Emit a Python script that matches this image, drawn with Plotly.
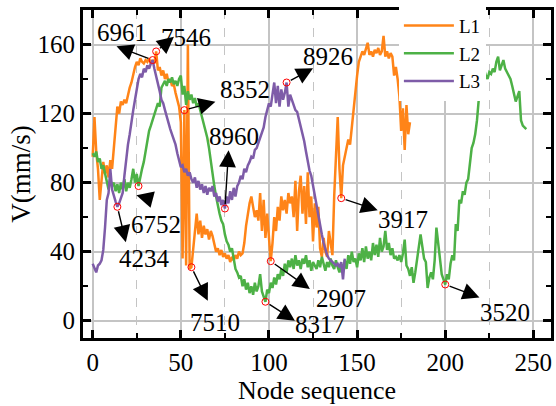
import plotly.graph_objects as go

# ---------------- data ----------------
series_names = ["L1", "L2", "L3"]
series_colors = ["#FF8418", "#4DB146", "#7E5CA8"]

l1_v = [95, 118, 98, 88, 70, 80, 92, 85, 90, 83,
        93, 88, 100, 115, 124, 120, 127, 125, 128, 126,
        131, 135, 138, 143, 147, 150, 148, 152, 150, 149,
        151, 150, 152, 149, 151, 149, 156, 145, 147, 142,
        145, 140, 143, 138, 140, 136, 137, 132, 128, 124,
        115, 36, 122, 32, 160, 30, 31, 42, 55, 62,
        50, 58, 48, 55, 50, 53, 47, 52, 49, 44,
        40, 42, 38, 41, 37, 39, 36, 38, 34, 37,
        35, 38, 36, 40, 38, 39, 45, 55, 62, 68,
        72, 66, 60, 64, 58, 74, 52, 70, 48, 62,
        50, 34.5, 45, 60, 52, 66, 58, 72, 64, 70,
        62, 74, 68, 72, 60, 81, 52, 75, 84, 62,
        78, 56, 86, 60, 72, 46, 68, 54, 66, 42,
        37, 48, 40, 37, 52, 44, 38, 72, 91, 118,
        88, 71, 90, 95, 100, 105, 102, 112, 125, 133,
        142, 150, 153, 156, 154, 157, 161, 154, 156, 153,
        157, 155, 158, 154, 156, 165, 153, 156, 152, 155,
        153, 142, 147, 140, 130, 110, 123, 99, 125, 108,
        115]

l2_v = [97, 95, 98, 92, 94, 88, 90, 85, 82, 76,
        82, 78, 80, 75, 79, 74, 80, 76, 82, 75,
        80, 77, 82, 88, 80, 85, 78, 84, 88, 92,
        98, 104, 110, 113, 116, 119, 122, 126, 124, 135,
        137, 139, 136, 140, 138, 141, 137, 139, 136, 140,
        142, 131, 136, 125, 133, 128, 131, 126, 129, 124,
        126, 122, 118, 114, 110, 106, 100, 92, 86, 78,
        72, 66, 62, 58, 56, 50, 46, 44, 40, 42,
        35, 30, 28, 25, 26, 20, 24, 18, 22, 16,
        20, 15, 22, 17, 20, 27, 17, 14, 11, 18,
        16, 22, 19, 25, 21, 27, 24, 30, 26, 33,
        28, 35, 31, 36, 30, 38, 32, 35, 30, 36,
        33, 38, 31, 35, 29, 34, 32, 30, 35, 31,
        37, 33, 29, 34, 31, 36, 32, 30, 35, 31,
        28, 33, 29, 35, 30, 38, 33, 40, 34, 36,
        31, 39, 35, 42, 34, 43, 36, 40, 35, 45,
        38, 44, 37, 48, 40, 43, 52, 41, 45, 38,
        42, 36, 37, 35, 38, 34, 39, 47, 32, 30,
        26, 31, 22, 28, 35, 44, 50, 43, 36, 34,
        19, 25, 28, 24, 35, 54, 44, 33, 27, 24,
        21, 27, 24, 33, 38, 35, 56, 52, 70, 68,
        75, 73, 80, 82, 92, 100, 103, 108, 116, 128,
        130, 131, 146, 142, 140, 144, 143, 146, 144, 150,
        153, 145, 148, 151, 146, 144, 142, 140, 136, 132,
        127, 130, 133, 116, 113, 112, 111]

l3_v = [33, 30, 28, 32, 33, 35, 41, 54, 70, 74,
        88, 76, 72, 69, 66, 68, 71, 74, 84, 94,
        102, 108, 116, 122, 128, 134, 140, 143, 141, 146,
        144, 148, 146, 149, 151, 146, 142, 138, 133, 128,
        126, 122, 118, 115, 111, 108, 105, 102, 97, 92,
        89, 90, 86, 88, 84, 86, 82, 80, 83, 77,
        81, 76, 79, 74, 78, 73, 77, 75, 78, 72,
        74, 69, 72, 67, 70, 65, 72, 68, 75, 70,
        77, 72, 78, 80, 84, 82, 88, 86, 90, 92,
        95, 94, 99, 100, 103, 105, 108, 112, 118, 122,
        126, 124, 132, 138, 126, 136, 124, 134, 128, 132,
        138, 124, 131, 128, 126, 122, 121, 117, 113, 109,
        104, 98, 91, 87, 84, 78, 72, 68, 62, 56,
        50, 45, 41, 38, 36, 35, 34, 33, 32, 33,
        31, 34, 24, 36]

series_values = [l1_v, l2_v, l3_v]

# marked points: label, node, value, label position, arrow-head position
mark_labels = ["6961", "7546", "8352", "8926", "8960", "6752",
               "4234", "7510", "2907", "8317", "3917", "3520"]
mark_x = [34, 36, 52, 110, 75, 26, 14, 56, 101, 98, 141, 200]
mark_y = [151, 156, 122, 138, 65, 78, 66, 31, 34.5, 11, 71, 21]
label_x = [16.8, 52.7, 86.5, 133.5, 79.9, 35.8, 29.2, 69.4, 141, 128.8, 175.8, 234]
label_y = [167, 164, 133.7, 153, 106.6, 55.6, 35.9, -1, 12.6, -1.9, 58.5, 4.8]
head_x = [13.5, 46.1, 69.6, 125, 77.1, 24.8, 18.8, 65.3, 123.2, 114.7, 161.7, 219.4]
head_y = [159, 164.5, 126.9, 146.3, 98.8, 72.7, 45.5, 11.6, 18.4, 0, 64, 13.5]
tail_x = [34, 36, 52, 110, 75, 33, 14, 56, 101, 98, 141, 200]
tail_y = [151, 156, 122, 138, 65, 70.5, 66, 31, 34.5, 11, 71, 21]

x_ticks = [0, 50, 100, 150, 200, 250]
y_ticks = [0, 40, 80, 120, 160]

FONT = "Liberation Serif"

fig = go.Figure()
for name, color, vals in zip(series_names, series_colors, series_values):
    fig.add_trace(go.Scatter(
        x=list(range(len(vals))), y=vals, mode="lines", name=name,
        line=dict(color=color, width=2.5)))

fig.add_trace(go.Scatter(
    x=mark_x, y=mark_y, mode="markers", showlegend=False,
    marker=dict(symbol="circle-open", size=7, color="#FF0000",
                line=dict(width=1, color="#FF0000"))))

annotations = []
for lab, lx, ly, hx, hy, tx, ty in zip(mark_labels, label_x, label_y,
                                       head_x, head_y, tail_x, tail_y):
    annotations.append(dict(
        x=hx, y=hy, ax=tx, ay=ty, xref="x", yref="y", axref="x", ayref="y",
        text="", showarrow=True, arrowhead=2, arrowsize=2.4, arrowwidth=1.4,
        arrowcolor="black", startstandoff=3))
    annotations.append(dict(
        x=lx, y=ly, xref="x", yref="y", text=lab, showarrow=False,
        xanchor="center", yanchor="middle",
        font=dict(family=FONT, size=25, color="black")))

axis_common = dict(
    showline=True, linewidth=3, linecolor="black", mirror="ticks",
    ticks="inside", ticklen=8, tickwidth=3, tickcolor="black",
    showgrid=True, gridcolor="#C4C4C4", gridwidth=1.5, zeroline=False,
    tickfont=dict(family=FONT, size=25, color="black"),
)

fig.update_layout(
    width=556, height=406,
    margin=dict(l=83, r=2, t=10, b=68),
    paper_bgcolor="white", plot_bgcolor="white",
    font=dict(family=FONT, color="black"),
    xaxis=dict(range=[-5.5, 260], tickvals=x_ticks,
               title=dict(text="Node sequence", font=dict(family=FONT, size=26), standoff=6),
               minor=dict(dtick=25, tick0=0, ticks="inside", ticklen=5, tickwidth=2,
                          tickcolor="black", showgrid=True, griddash="dash",
                          gridcolor="#C4C4C4", gridwidth=1),
               **axis_common),
    yaxis=dict(range=[-10, 180], tickvals=y_ticks,
               title=dict(text="V(mm/s)", font=dict(family=FONT, size=27), standoff=0),
               minor=dict(dtick=20, tick0=0, ticks="inside", ticklen=5, tickwidth=2,
                          tickcolor="black", showgrid=False),
               **axis_common),
    legend=dict(x=0.675, y=1.01, xanchor="left", yanchor="top",
                bgcolor="white", borderwidth=0,
                font=dict(family=FONT, size=19, color="black"),
                tracegroupgap=0, itemwidth=50),
    annotations=annotations,
)

fig.write_html("out.html")
